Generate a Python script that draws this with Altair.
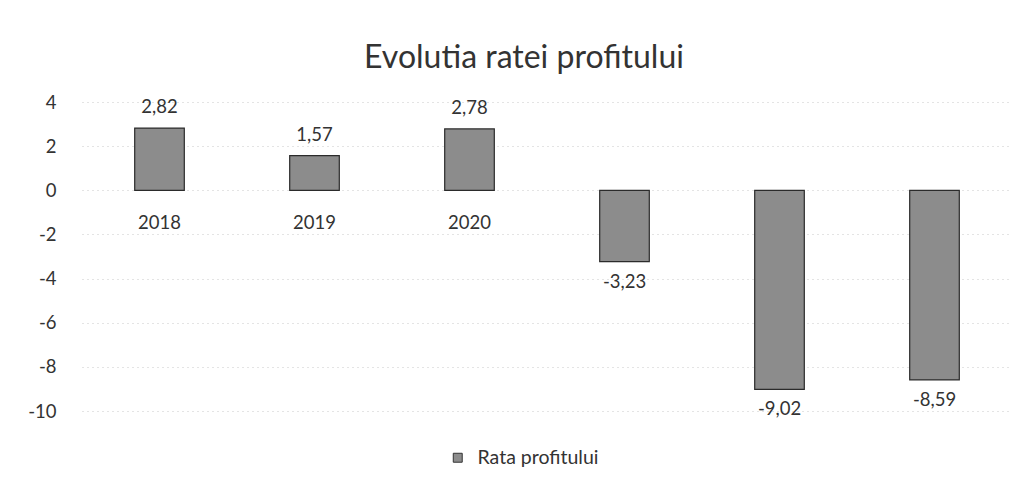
import altair as alt
import pandas as pd

categories = ["2018", "2019", "2020", "2021", "2022", "2023"]
values = [2.82, 1.57, 2.78, -3.23, -9.02, -8.59]
series_name = "Rata profitului"
y_ticks = [4, 2, 0, -2, -4, -6, -8, -10]

df = pd.DataFrame({"an": categories, "valoare": values, "serie": [series_name] * len(categories)})

FONT = "Lato"
TXT = "#333333"
FS = 18.5

base = alt.Chart(df).transform_calculate(
    eticheta="replace(replace(format(datum.valoare, '.2f'), '.', ','), '\u2212', '-')"
)

x_enc = alt.X("an:N", sort=categories, axis=None,
              scale=alt.Scale(paddingInner=0.68, paddingOuter=0.34))
y_scale = alt.Scale(domain=[-10, 4], nice=False)

cat_labels = base.mark_text(font=FONT, fontSize=FS, color=TXT, baseline="middle", dy=33).encode(
    x=x_enc, y=alt.datum(0, scale=y_scale), text="an:N"
)

bars = base.mark_bar(stroke="#2b2b2b", strokeWidth=1.2).encode(
    x=x_enc,
    y=alt.Y("valoare:Q", scale=y_scale,
            axis=alt.Axis(values=y_ticks, title=None, domain=False, ticks=False,
                          labelExpr="replace(datum.label, '\u2212', '-')",
                          labelFont=FONT, labelFontSize=FS, labelColor=TXT, labelPadding=26,
                          grid=True, gridColor="#c8c8c8", gridDash=[1, 4], gridWidth=1)),
    color=alt.Color("serie:N", scale=alt.Scale(range=["#8c8c8c"]),
                    legend=alt.Legend(title=None, orient="none", legendX=366, legendY=346,
                                      symbolType="square", symbolSize=80, symbolStrokeColor="#333",
                                      symbolStrokeWidth=1, labelFont=FONT, labelFontSize=19.5,
                                      labelOffset=10, labelColor=TXT)),
)

pos_labels = base.transform_filter("datum.valoare >= 0").mark_text(
    font=FONT, fontSize=FS, color=TXT, baseline="bottom", dy=-11
).encode(x=x_enc, y=alt.Y("valoare:Q", scale=y_scale), text="eticheta:N")

neg_labels = base.transform_filter("datum.valoare < 0").mark_text(
    font=FONT, fontSize=FS, color=TXT, baseline="top", dy=11
).encode(x=x_enc, y=alt.Y("valoare:Q", scale=y_scale), text="eticheta:N")

chart = alt.layer(cat_labels, bars, pos_labels, neg_labels).properties(
    width=930, height=309,
    background="white",
    title=alt.TitleParams("Evolutia ratei profitului", font=FONT, fontSize=32, fontWeight="normal",
                          color=TXT, anchor="middle", dx=-23, offset=18),
    padding={"left": 74, "top": 94, "right": 10, "bottom": 60},
    autosize=alt.AutoSizeParams(type="none"),
).configure_view(stroke=None)

chart.save("out.html", embed_options={"renderer": "svg", "actions": False})
